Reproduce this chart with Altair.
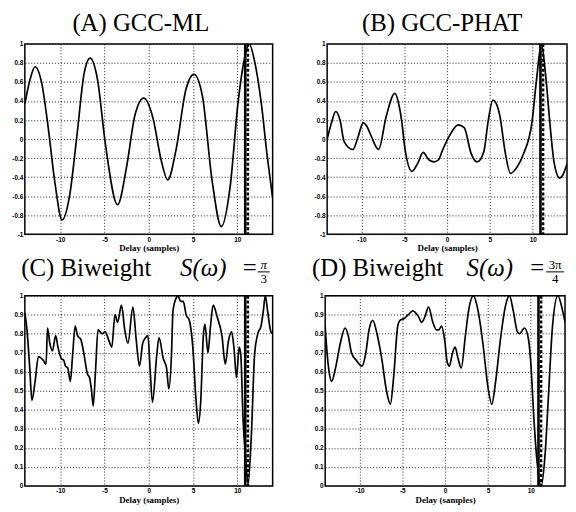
import altair as alt
import pandas as pd

# ---------------- data ----------------
A_DELAY = [-14.0, -13.4, -12.85, -12.1, -11.4, -10.6, -9.8, -8.95, -8.1, -7.3, -6.63, -5.8, -4.9,
           -3.52, -2.5, -1.56, -0.56, 0.48, 1.4, 2.15, 3.07, 4.2, 5.1, 6.05, 7.15, 8.2, 9.2, 10.1,
           10.85, 11.35, 12.0, 12.7, 13.4, 14.0]
A_VALUE = [0.37, 0.63, 0.76, 0.59, 0.15, -0.46, -0.85, -0.60, 0.05, 0.69, 0.85, 0.63, -0.05,
           -0.69, -0.29, 0.25, 0.43, 0.22, -0.22, -0.43, -0.12, 0.52, 0.68, 0.46, -0.43, -0.92, -0.50, 0.39,
           0.86, 1.0, 0.80, 0.39, -0.19, -0.62]

B_DELAY = [-14.0, -13.5, -13.0, -12.5, -12.0, -11.0, -10.4, -9.8, -9.4, -8.9, -8.0, -7.1, -6.1, -5.6,
           -5.3, -4.95, -4.1, -3.4, -2.8, -2.1, -1.5, -1.0, -0.55, 0.2, 1.3, 2.0, 2.8, 3.5, 4.3, 4.75,
           5.35, 5.7, 6.17, 6.75, 7.4, 8.2, 8.95, 9.9, 10.45, 11.0, 11.55, 12.0, 12.5, 13.15, 13.5, 14.0]
B_VALUE = [0.0, 0.17, 0.29, 0.20, -0.03, -0.11, 0.02, 0.17, 0.14, 0.04, -0.11, 0.24, 0.48, 0.35,
           0.19, -0.08, -0.34, -0.25, -0.14, -0.22, -0.24, -0.22, -0.12, 0.02, 0.15, 0.12, -0.15, -0.24, -0.13, 0.16,
           0.41, 0.38, 0.24, -0.12, -0.36, -0.29, -0.15, 0.17, 0.63, 1.0, 0.63, 0.17, -0.25, -0.41, -0.38, -0.26]

C_DELAY = [-14.0, -13.76, -13.46, -13.2, -12.84, -12.47, -11.92, -11.6, -11.44, -11.18, -10.88, -10.52,
           -10.26, -9.89, -9.6, -9.41, -9.15, -8.86, -8.6, -8.31, -8.05, -7.68, -7.31, -6.94, -6.69, -6.46,
           -6.28, -6.02, -5.73, -5.28, -4.92, -4.55, -4.18, -3.81, -3.52, -3.08, -2.71, -2.35, -1.79, -1.42,
           -1.05, -0.68, -0.35, -0.10, 0.17, 0.42, 0.91, 1.16, 1.64, 2.01, 2.27, 2.57, 2.74, 3.12, 3.3, 3.6,
           3.9, 4.22, 4.59, 4.96, 5.33, 5.61, 5.88, 6.17, 6.35, 6.69, 6.98, 7.28, 7.72, 8.27, 8.65, 9.0,
           9.37, 9.64, 9.92, 10.22, 10.4, 10.66, 10.96, 11.22, 11.59, 11.96, 12.32, 12.69, 12.95, 13.17,
           13.43, 13.8, 14.0]
C_VALUE = [0.91, 0.82, 0.63, 0.45, 0.55, 0.68, 0.66, 0.64, 0.83, 0.75, 0.71, 0.79,
           0.73, 0.67, 0.66, 0.63, 0.62, 0.55, 0.69, 0.84, 0.79, 0.77, 0.69, 0.59, 0.57, 0.50,
           0.42, 0.60, 0.82, 0.80, 0.81, 0.77, 0.73, 0.90, 0.86, 0.95, 0.82, 0.75, 0.94, 0.77,
           0.63, 0.75, 0.78, 0.79, 0.60, 0.44, 0.69, 0.78, 0.67, 0.62, 0.51, 0.69, 0.92, 0.99, 1.0, 0.97,
           0.97, 0.90, 0.87, 0.74, 0.46, 0.33, 0.45, 0.79, 0.85, 0.70, 0.84, 0.95, 0.89, 0.79, 0.64, 0.76,
           0.81, 0.72, 0.57, 0.73, 0.69, 0.35, 0.14, 0.01, 0.26, 0.69, 0.80, 0.84, 0.92, 1.0,
           0.92, 0.81, 0.80]

D_DELAY = [-14.0, -13.85, -13.54, -13.24, -12.79, -12.23, -11.68, -11.31, -10.93, -10.37, -9.70, -9.25,
           -8.88, -8.44, -7.95, -7.40, -6.84, -6.39, -6.01, -5.53, -5.27, -4.78, -4.3, -3.78, -3.11, -2.74,
           -2.35, -1.93, -1.43, -1.0, -0.73, -0.42, -0.06, 0.25, 0.50, 0.87, 1.17, 1.51, 1.88, 2.37, 2.74,
           3.30, 3.85, 4.41, 4.97, 5.45, 5.9, 6.46, 7.02, 7.51, 7.96, 8.44, 8.70, 9.26, 9.70, 10.0, 10.37,
           10.75, 11.2, 11.68, 12.05, 12.54, 13.16, 13.72, 14.0]
D_VALUE = [0.84, 0.74, 0.60, 0.55, 0.62, 0.75, 0.83, 0.79, 0.70, 0.66, 0.63, 0.70,
           0.82, 0.87, 0.80, 0.67, 0.50, 0.43, 0.57, 0.84, 0.87, 0.88, 0.90, 0.92, 0.89, 0.86,
           0.89, 0.94, 0.86, 0.82, 0.82, 0.84, 0.77, 0.65, 0.63, 0.70, 0.73, 0.67, 0.62, 0.79, 0.92,
           1.0, 0.92, 0.75, 0.53, 0.43, 0.55, 0.77, 0.94, 1.0, 0.92, 0.81, 0.80, 0.83, 0.78, 0.65, 0.35,
           0.12, 0.0, 0.17, 0.46, 0.84, 1.0, 0.92, 0.86]

TRUE_DELAY = [10.9]      # solid vertical line
EST_DELAY = [11.2]       # dashed vertical line

X_TICKS = [-10, -5, 0, 5, 10]
Y_TICKS_AB = [-1, -0.8, -0.6, -0.4, -0.2, 0, 0.2, 0.4, 0.6, 0.8, 1]
Y_TICKS_CD = [0, 0.1, 0.2, 0.3, 0.4, 0.5, 0.6, 0.7, 0.8, 0.9, 1]

TITLE_FONT = "Liberation Serif"
W_LEFT, W_RIGHT, H = 250, 242, 192

LABEL_EXPR = ("datum.value < 0 ? '-' + format(-datum.value, '.1~f') : "
              "format(datum.value, '.1~f')")


def one():
    return alt.Data(values=[{"k": 0}])


def text(s, x, y, size=25, style="normal"):
    return alt.Chart(one()).mark_text(
        text=s, font=TITLE_FONT, fontSize=size, fontStyle=style, align="center",
        baseline="alphabetic", color="black"
    ).encode(x=alt.value(x), y=alt.value(y))


def frac_bar(x0, x1, y):
    return alt.Chart(one()).mark_rule(color="black", strokeWidth=1).encode(
        x=alt.value(x0), x2=alt.value(x1), y=alt.value(y))


GRID = dict(grid=True, gridDash=[1, 2], gridColor="#222222", gridOpacity=1, gridWidth=1)


def panel(delay, value, yticks, ydomain, width, title_layers):
    df = pd.DataFrame({"d": delay, "v": value})
    x = alt.X("d:Q", scale=alt.Scale(domain=[-14, 14], nice=False, zero=False),
              axis=alt.Axis(values=X_TICKS, title="Delay (samples)", labelExpr=LABEL_EXPR, **GRID))
    y = alt.Y("v:Q", scale=alt.Scale(domain=ydomain, nice=False, zero=False),
              axis=alt.Axis(values=yticks, title=None, labelExpr=LABEL_EXPR, **GRID))
    line = alt.Chart(df).mark_line(color="black", strokeWidth=1.7,
                                   interpolate="monotone", clip=True).encode(x=x, y=y)
    solid = alt.Chart(pd.DataFrame({"d": TRUE_DELAY})).mark_rule(
        color="black", strokeWidth=2.6).encode(x="d:Q")
    dashed = alt.Chart(pd.DataFrame({"d": EST_DELAY})).mark_rule(
        color="black", strokeWidth=2.6, strokeDash=[3, 2]).encode(x="d:Q")
    return alt.layer(line, solid, dashed, *title_layers).properties(width=width, height=H)


pA = panel(A_DELAY, A_VALUE, Y_TICKS_AB, [-1, 1], W_LEFT, [text("(A) GCC-ML", 117, -13)])
pB = panel(B_DELAY, B_VALUE, Y_TICKS_AB, [-1, 1], W_RIGHT, [text("(B) GCC-PHAT", 116, -13)])
pC = panel(C_DELAY, C_VALUE, Y_TICKS_CD, [0, 1], W_LEFT, [
    text("(C) Biweight", 62, -20),
    text("S(ω)", 180, -20, style="italic"),
    text("=", 227, -20),
    text("π", 241, -27, size=13, style="italic"),
    frac_bar(235, 247, -24),
    text("3", 241, -13, size=13),
])
pD = panel(D_DELAY, D_VALUE, Y_TICKS_CD, [0, 1], W_RIGHT, [
    text("(D) Biweight", 53, -20),
    text("S(ω)", 166, -20, style="italic"),
    text("=", 214, -20),
    text("3π", 232, -27, size=13),
    frac_bar(223, 241, -24),
    text("4", 232, -13, size=13),
])

top = alt.hconcat(pA, pB, spacing=40)
bottom = alt.hconcat(pC, pD, spacing=37)
chart = alt.vconcat(top, bottom, spacing=1).properties(
    padding={"left": 3, "top": 0, "right": 0, "bottom": 0}
).configure_view(
    stroke="black", strokeWidth=1.5
).configure_axis(
    domain=False, ticks=False,
    labelFont="Liberation Sans", labelFontSize=6.5, labelFontWeight="bold", labelColor="black",
    labelPadding=2,
    titleFont="Liberation Serif", titleFontSize=9, titleFontWeight="bold", titleColor="black",
    titlePadding=1,
)

chart.save("out.html", embed_options={"renderer": "svg", "actions": False})
